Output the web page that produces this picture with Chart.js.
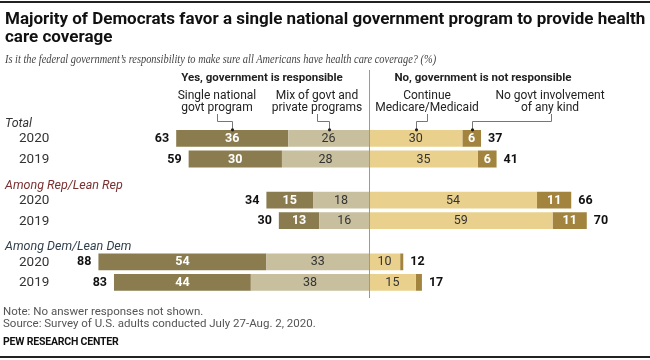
<!DOCTYPE html>
<html><head><meta charset="utf-8">
<script src="https://cdn.jsdelivr.net/npm/chart.js@4.4.0/dist/chart.umd.min.js"></script>
<style>
html,body{margin:0;padding:0;background:#fff;}
#wrap{position:relative;width:650px;height:360px;overflow:hidden;font-family:Roboto,"Liberation Sans",sans-serif;color:#222;}
canvas{position:absolute;left:0;top:0;}
.t{position:absolute;white-space:nowrap;}
.c{transform:translateX(-50%);text-align:center;}
.rule{position:absolute;left:0;width:650px;height:2px;background:#222;}
</style></head><body>
<div id="wrap">
<canvas id="c" width="650" height="360"></canvas>
<div class="rule" style="top:1px"></div>
<div class="rule" style="top:356px"></div>
<div class="t" style="left:5px;top:9px;font-size:17px;font-weight:700;line-height:18px;color:#111">Majority of Democrats favor a single national government program to provide health<br>care coverage</div>
<div class="t" style="left:5px;top:51px;font-size:13.5px;font-style:italic;font-family:'Liberation Serif',serif;color:#444;transform:scaleX(0.77);transform-origin:0 0">Is it the federal government’s responsibility to make sure all Americans have health care coverage? (%)</div>
<div class="t c" style="left:262px;top:70px;font-size:11.5px;font-weight:700;color:#222">Yes, government is responsible</div>
<div class="t c" style="left:483px;top:70px;font-size:11.5px;font-weight:700;color:#222">No, government is not responsible</div>
<div class="t c" style="left:217px;top:89px;font-size:12px;line-height:12px;color:#222">Single national<br>govt program</div>
<div class="t c" style="left:317px;top:89px;font-size:12px;line-height:12px;color:#222">Mix of govt and<br>private programs</div>
<div class="t c" style="left:427px;top:89px;font-size:12px;line-height:12px;color:#222">Continue<br>Medicare/Medicaid</div>
<div class="t c" style="left:550px;top:89px;font-size:12px;line-height:12px;color:#222">No govt involvement<br>of any kind</div>
<div class="t" style="left:3px;top:305px;font-size:11.5px;line-height:12px;color:#555">Note: No answer responses not shown.<br>Source: Survey of U.S. adults conducted July 27-Aug. 2, 2020.</div>
<div class="t" style="left:3px;top:335px;font-size:10.5px;font-weight:700;color:#111;letter-spacing:-0.2px">PEW RESEARCH CENTER</div>
</div>
<script>
const groups = ["Total", "Among Rep/Lean Rep", "Among Dem/Lean Dem"];
const groupColors = ["#333333", "#7b3030", "#33404c"];
const years = ["2020", "2019"];
const singleProgram   = [36, 30, 15, 13, 54, 44];
const mixPrograms     = [26, 28, 18, 16, 33, 38];
const continueMedicare= [30, 35, 54, 59, 10, 15];
const noInvolvement   = [6, 6, 11, 11, 1, 2];
const yesTotals       = [63, 59, 34, 30, 88, 83];
const noTotals        = [37, 41, 66, 70, 12, 17];

// build rows: header slot + 2 year rows per group
const rowLabels = [], rowIndex = [];
groups.forEach((g, gi) => {
  rowLabels.push(g); rowIndex.push(null);
  years.forEach((y, yi) => { rowLabels.push(y); rowIndex.push(gi * 2 + yi); });
});
const expand = (arr, sign) => rowIndex.map(i => i === null ? null : sign * arr[i]);

const datasets = [
  {label: "Mix of govt and private programs", data: expand(mixPrograms, -1), backgroundColor: "#c8bf9f", txt: "#333"},
  {label: "Single national govt program", data: expand(singleProgram, -1), backgroundColor: "#8b7c4f", txt: "#fff"},
  {label: "Continue Medicare/Medicaid", data: expand(continueMedicare, 1), backgroundColor: "#e9d08d", txt: "#333"},
  {label: "No govt involvement of any kind", data: expand(noInvolvement, 1), backgroundColor: "#a2843f", txt: "#fff"}
];
datasets.forEach(d => { d.stack = "s"; d.borderWidth = 0; d.categoryPercentage = 1; d.barPercentage = 0.82; });

const labelPlugin = {
  id: "labels",
  afterDatasetsDraw(chart) {
    const ctx = chart.ctx, xs = chart.scales.x, ys = chart.scales.y;
    const x0 = xs.getPixelForValue(0);
    ctx.save();
    // segment labels
    chart.data.datasets.forEach((ds, di) => {
      const meta = chart.getDatasetMeta(di);
      meta.data.forEach((bar, ri) => {
        const v = ds.data[ri];
        if (v === null || Math.abs(v) < 3) return;
        const cx = (bar.x + bar.base) / 2;
        ctx.fillStyle = ds.txt;
        ctx.font = (ds.txt === "#fff" ? "700 " : "400 ") + "12.5px Roboto, 'Liberation Sans', sans-serif";
        ctx.textAlign = "center"; ctx.textBaseline = "middle";
        ctx.fillText(String(Math.abs(v)), cx, bar.y + 0.5);
      });
    });
    // totals
    ctx.font = "700 12.5px Roboto, 'Liberation Sans', sans-serif";
    ctx.fillStyle = "#111";
    rowIndex.forEach((i, ri) => {
      const y = ys.getPixelForValue(ri);
      if (i === null) return;
      const left = xs.getPixelForValue(-(singleProgram[i] + mixPrograms[i]));
      const right = xs.getPixelForValue(continueMedicare[i] + noInvolvement[i]);
      ctx.textAlign = "right"; ctx.fillText(String(yesTotals[i]), left - 7, y + 0.5);
      ctx.textAlign = "left"; ctx.fillText(String(noTotals[i]), right + 7, y + 0.5);
    });
    // row labels
    rowIndex.forEach((i, ri) => {
      const y = ys.getPixelForValue(ri);
      ctx.textBaseline = "middle";
      if (i === null) {
        const gi = ri / 3;
        ctx.font = "italic 400 12.5px Roboto, 'Liberation Sans', sans-serif";
        ctx.fillStyle = groupColors[gi];
        ctx.textAlign = "left";
        ctx.fillText(rowLabels[ri], 5, y + 6);
      } else {
        ctx.font = "400 13.5px Roboto, 'Liberation Sans', sans-serif";
        ctx.fillStyle = "#333";
        ctx.textAlign = "left";
        ctx.fillText(rowLabels[ri], 19, y + 0.5);
      }
    });
    // center divider
    ctx.strokeStyle = "#999"; ctx.lineWidth = 1;
    ctx.beginPath(); ctx.moveTo(Math.round(x0) + 0.5, 70); ctx.lineTo(Math.round(x0) + 0.5, 298); ctx.stroke();
    // connectors from legend labels to first row segments
    const firstRow = rowIndex.indexOf(0);
    const yTop = chart.getDatasetMeta(0).data[firstRow].y - 8.5;
    const labelX = [217, 317, 427, 551];
    const order = [1, 0, 2, 3];
    ctx.strokeStyle = "#777"; ctx.fillStyle = "#222";
    order.forEach((di, k) => {
      const bar = chart.getDatasetMeta(di).data[firstRow];
      const tx = Math.round((bar.x + bar.base) / 2) + 0.5;
      const lx = labelX[k] + 0.5;
      ctx.beginPath();
      ctx.moveTo(lx, 114); ctx.lineTo(lx, 121.5); ctx.lineTo(tx, 121.5); ctx.lineTo(tx, yTop);
      ctx.stroke();
      ctx.beginPath(); ctx.arc(tx, yTop, 1.6, 0, Math.PI * 2); ctx.fill();
    });
    ctx.restore();
  }
};

new Chart(document.getElementById("c"), {
  type: "bar",
  data: {labels: rowLabels, datasets},
  options: {
    indexAxis: "y",
    responsive: false,
    animation: false,
    layout: {padding: {left: 2, right: 1, top: 107.5, bottom: 67.3}},
    scales: {
      x: {stacked: true, min: -118, max: 90, display: false},
      y: {stacked: true, display: false}
    },
    plugins: {legend: {display: false}, tooltip: {enabled: false}}
  },
  plugins: [labelPlugin]
});
</script>
</body></html>
